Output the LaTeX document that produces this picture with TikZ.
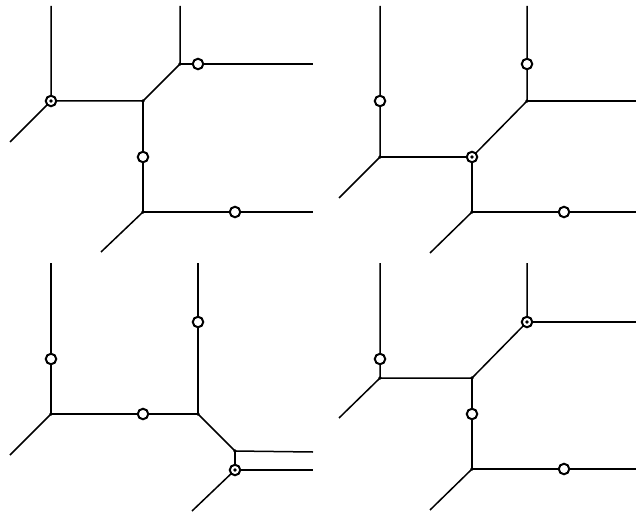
\documentclass[tikz,border=0pt]{standalone}
\usepackage{tikz}

\begin{document}
\begin{tikzpicture}[x=1pt, y=-1pt,
		edge/.style={line width=1.5pt},
		vtx/.style={circle, fill=black, inner sep=0pt, minimum size=3.8pt},
		ring/.style={circle, draw, fill=white, line width=2pt, inner sep=0pt, minimum size=10.5pt},
		marked/.style={ring, path picture={\fill[black] (path picture bounding box.center) circle (1.9pt);}}]
		\useasboundingbox (0, 0) rectangle (636, 513);

		% Top left
		\coordinate (a) at (51, 101);
		\coordinate (b) at (143, 101);
		\coordinate (c) at (180, 64);
		\coordinate (d) at (143, 212);
		\coordinate (a1) at (51, 6);
		\coordinate (a2) at (10, 142);
		\coordinate (c1) at (180, 6);
		\coordinate (c2) at (313, 64);
		\coordinate (d1) at (313, 212);
		\coordinate (d2) at (101, 252);
		\draw[edge] (a1) -- (a) -- (b) -- (c) -- (c1);
		\draw[edge] (a2) -- (a);
		\draw[edge] (c) -- (c2);
		\draw[edge] (b) -- (d) -- (d1);
		\draw[edge] (d) -- (d2);
		\node[vtx] (bv) at (b) {};
		\node[vtx] (cv) at (c) {};
		\node[vtx] (dv) at (d) {};
		\node[ring] (r1) at (198, 64) {};
		\node[ring] (r2) at (143, 157) {};
		\node[ring] (r3) at (235, 212) {};
		\node[marked] (s1) at (a) {};

		% Top right
		\coordinate (e) at (380, 157);
		\coordinate (f) at (472, 157);
		\coordinate (g) at (527, 101);
		\coordinate (h) at (472, 212);
		\coordinate (e1) at (380, 6);
		\coordinate (e2) at (339, 198);
		\coordinate (g1) at (527, 6);
		\coordinate (g2) at (636, 101);
		\coordinate (h1) at (636, 212);
		\coordinate (h2) at (430, 253);
		\draw[edge] (e1) -- (e) -- (f) -- (g) -- (g1);
		\draw[edge] (e2) -- (e);
		\draw[edge] (g) -- (g2);
		\draw[edge] (f) -- (h) -- (h1);
		\draw[edge] (h) -- (h2);
		\node[vtx] (ev) at (e) {};
		\node[vtx] (gv) at (g) {};
		\node[vtx] (hv) at (h) {};
		\node[ring] (r4) at (380, 101) {};
		\node[ring] (r5) at (527, 64) {};
		\node[ring] (r6) at (564, 212) {};
		\node[marked] (s2) at (f) {};

		% Bottom left
		\coordinate (i) at (51, 414);
		\coordinate (j) at (198, 414);
		\coordinate (k) at (235, 451);
		\coordinate (l) at (235, 470);
		\coordinate (i1) at (51, 263);
		\coordinate (i2) at (10, 455);
		\coordinate (j1) at (198, 263);
		\coordinate (k1) at (313, 452);
		\coordinate (l1) at (313, 470);
		\coordinate (l2) at (192, 511);
		\draw[edge] (i1) -- (i) -- (j) -- (j1);
		\draw[edge] (i2) -- (i);
		\draw[edge] (j) -- (k) -- (k1);
		\draw[edge] (k) -- (l) -- (l1);
		\draw[edge] (l) -- (l2);
		\node[vtx] (iv) at (i) {};
		\node[vtx] (jv) at (j) {};
		\node[vtx] (kv) at (k) {};
		\node[ring] (r7) at (51, 359) {};
		\node[ring] (r8) at (143, 414) {};
		\node[ring] (r9) at (198, 322) {};
		\node[marked] (s3) at (l) {};

		% Bottom right
		\coordinate (m) at (380, 378);
		\coordinate (n) at (472, 378);
		\coordinate (o) at (527, 322);
		\coordinate (p) at (472, 469);
		\coordinate (m1) at (380, 263);
		\coordinate (m2) at (339, 418);
		\coordinate (o1) at (527, 263);
		\coordinate (o2) at (636, 322);
		\coordinate (p1) at (636, 469);
		\coordinate (p2) at (430, 510);
		\draw[edge] (m1) -- (m) -- (n) -- (o) -- (o1);
		\draw[edge] (m2) -- (m);
		\draw[edge] (o) -- (o2);
		\draw[edge] (n) -- (p) -- (p1);
		\draw[edge] (p) -- (p2);
		\node[vtx] (mv) at (m) {};
		\node[vtx] (nv) at (n) {};
		\node[vtx] (pv) at (p) {};
		\node[ring] (r10) at (380, 359) {};
		\node[ring] (r11) at (472, 414) {};
		\node[ring] (r12) at (564, 469) {};
		\node[marked] (s4) at (o) {};
	\end{tikzpicture}
\end{document}
